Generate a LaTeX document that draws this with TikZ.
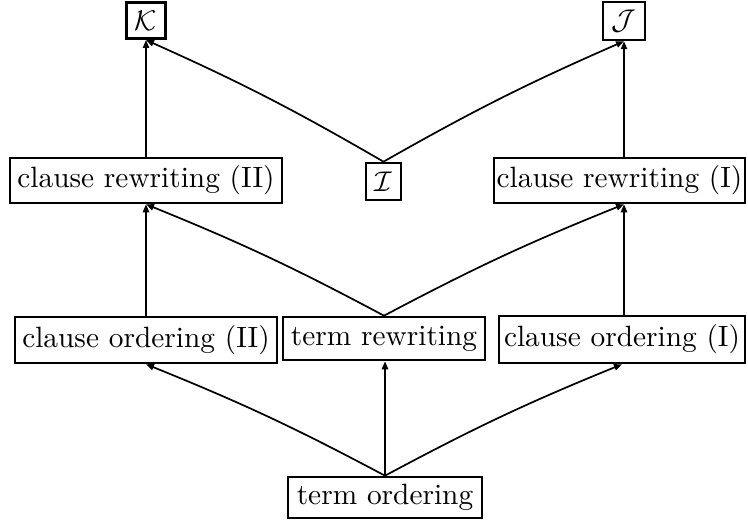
\documentclass[tikz,border=0pt]{standalone}
\usetikzlibrary{arrows.meta}
\begin{document}
\begin{tikzpicture}[x=0.35088pt,y=-0.35088pt,
  box/.style={draw,line width=0.9pt,inner sep=0pt,align=center,font=\fontsize{10.3}{12}\selectfont},
  arr/.style={line width=0.6pt,-{Triangle[length=2.8pt,width=2.2pt]}},
  bl/.style={arr,bend left=3},
  br/.style={arr,bend right=3}]
\useasboundingbox (0,0) rectangle (748,523);
\node[box,minimum width=13.7pt,minimum height=12.8pt] (K) at (146,20.5) {$\mathcal{K}$};
\node[box,minimum width=14.7pt,minimum height=13.3pt] (J) at (624,21) {$\mathcal{J}$};
\node[box,minimum width=95.4pt,minimum height=15.8pt] (cr2) at (146,180.5) {clause rewriting (II)};
\node[box,minimum width=12.3pt,minimum height=13pt] (I) at (383.5,181.5) {$\mathcal{I}$};
\node[box,minimum width=88.1pt,minimum height=15.8pt] (cr1) at (619.5,180.5) {clause rewriting (I)};
\node[box,minimum width=91.9pt,minimum height=16.1pt] (co2) at (146,340) {clause ordering (II)};
\node[box,minimum width=70.9pt,minimum height=15.1pt] (tr) at (384,338.5) {term rewriting};
\node[box,minimum width=86.3pt,minimum height=16.5pt] (co1) at (622,339.5) {clause ordering (I)};
\node[box,minimum width=68.1pt,minimum height=14.4pt] (to) at (385,497.5) {term ordering};
% bottom layer
\draw[br] (to.north) to (co2.south);
\draw[arr] (to.north) -- (to.north |- tr.south);
\draw[bl] (to.north) to (co1.south);
% middle layer
\draw[arr] (co2.north) -- (cr2.south);
\draw[br] (tr.north) to (cr2.south);
\draw[bl] (tr.north) to (cr1.south -| J.south);
\draw[arr] (co1.north -| J.south) -- (cr1.south -| J.south);
% top layer
\draw[arr] (cr2.north -| K.south) -- (K.south);
\draw[br] (I.north) to (K.south);
\draw[bl] (I.north) to (J.south);
\draw[arr] (cr1.north -| J.south) -- (J.south);
\end{tikzpicture}
\end{document}
